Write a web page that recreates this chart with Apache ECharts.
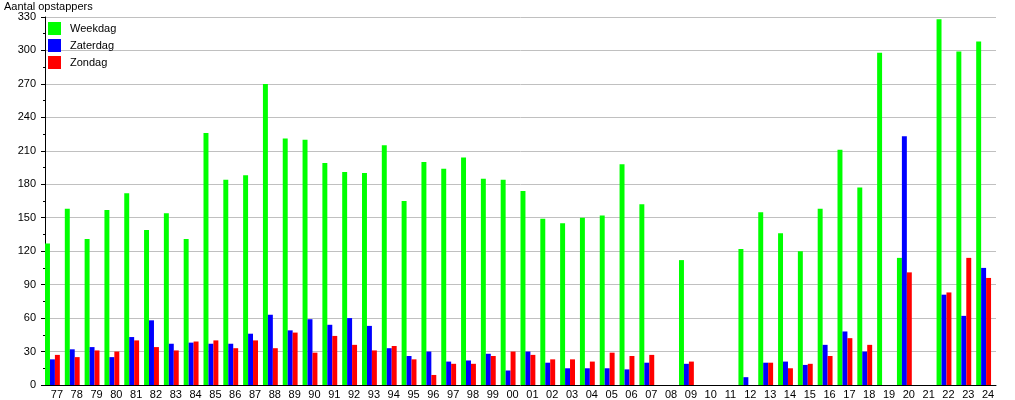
<!DOCTYPE html>
<html>
<head>
<meta charset="utf-8">
<script src="https://cdn.jsdelivr.net/npm/echarts@6/dist/echarts.min.js"></script>
<style>
html,body{margin:0;padding:0;background:#fff;}
#chart{width:1015px;height:400px;}
</style>
</head>
<body>
<div id="chart"></div>
<script>
const categories = ['77','78','79','80','81','82','83','84','85','86','87','88','89','90','91','92','93','94','95','96','97','98','99','00','01','02','03','04','05','06','07','08','09','10','11','12','13','14','15','16','17','18','19','20','21','22','23','24'];
const weekdag = [127,158,131,157,172,139,154,131,226,184,188,270,221,220,199,191,190,215,165,200,194,204,185,184,174,149,145,150,152,198,162,null,112,null,null,122,155,136,120,158,211,177,298,114,null,328,299,308];
const zaterdag = [23,32,34,25,43,58,37,38,37,37,46,63,49,59,54,60,53,33,26,30,21,22,28,13,30,20,15,15,15,14,20,null,19,null,null,7,20,21,18,36,48,30,null,223,null,81,62,105];
const zondag = [27,25,31,30,40,34,31,39,40,33,40,33,47,29,44,36,31,35,23,9,19,19,26,30,27,23,23,21,29,26,27,null,21,null,null,null,20,15,19,26,42,36,null,101,null,83,114,96];
const yTicks = {min: 0, max: 330, interval: 30};

const chart = echarts.init(document.getElementById('chart'), null, {renderer: 'canvas'});
const font = 'Liberation Sans, Arial, sans-serif';
const pad = categories.map(() => '-');
chart.setOption({
  animation: false,
  backgroundColor: '#ffffff',
  textStyle: {fontFamily: font},
  title: {
    text: 'Aantal opstappers', left: 4, top: 1, padding: 0,
    textStyle: {fontSize: 11, fontWeight: 'normal', color: '#000', fontFamily: font}
  },
  legend: {
    data: ['Weekdag', 'Zaterdag', 'Zondag'],
    orient: 'vertical', left: 48, top: 22, padding: 0,
    itemWidth: 13, itemHeight: 13, itemGap: 4, icon: 'rect',
    textStyle: {fontSize: 11, color: '#000', fontFamily: font, padding: [0, 0, 0, 4]}
  },
  grid: {left: 45, right: 19, top: 17, bottom: 12, containLabel: false},
  xAxis: {
    type: 'category', data: categories,
    axisLine: {lineStyle: {color: '#000', width: 1}},
    axisTick: {show: false},
    axisLabel: {color: '#000', fontSize: 11, margin: 4, interval: 0, fontFamily: font, padding: [0, 0, 0, 4]},
    splitLine: {show: false}
  },
  yAxis: {
    type: 'value', min: yTicks.min, max: yTicks.max, interval: yTicks.interval,
    axisLine: {show: true, lineStyle: {color: '#000', width: 1}},
    axisTick: {show: true, length: 4, lineStyle: {color: '#000'}},
    minorTick: {show: true, splitNumber: 2, length: 2, lineStyle: {color: '#000'}},
    axisLabel: {color: '#000', fontSize: 11, margin: 9, fontFamily: font},
    splitLine: {show: true, lineStyle: {color: '#c0c0c0', width: 1}}
  },
  series: [
    {name: 'Weekdag', type: 'bar', data: weekdag, itemStyle: {color: '#00ff00'}, barGap: '0%', barCategoryGap: '0%'},
    {name: 'Zaterdag', type: 'bar', data: zaterdag, itemStyle: {color: '#0000ff'}},
    {name: 'Zondag', type: 'bar', data: zondag, itemStyle: {color: '#ff0000'}},
    {name: 'pad', type: 'bar', data: pad, itemStyle: {color: 'rgba(0,0,0,0)'}}
  ]
});
</script>
</body>
</html>
